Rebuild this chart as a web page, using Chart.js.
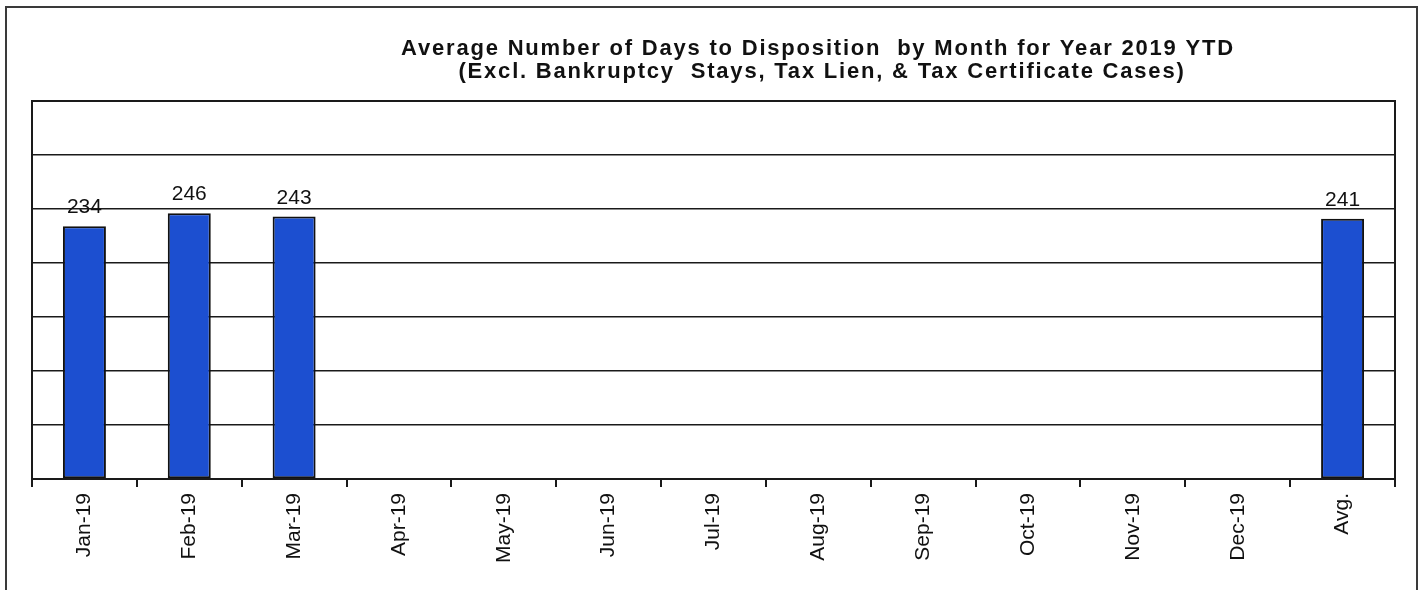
<!DOCTYPE html>
<html>
<head>
<meta charset="utf-8">
<script src="https://cdn.jsdelivr.net/npm/chart.js@4.4.1/dist/chart.umd.min.js"></script>
<style>
  body { margin: 0; background: #fff; }
  #caixa { position: relative; width: 1426px; height: 590px; }
</style>
</head>
<body>
<div id="caixa"><canvas id="graficoBarra"></canvas></div>
<script>
// Dados do gráfico
const meses = ['Jan-19', 'Feb-19', 'Mar-19', 'Apr-19', 'May-19', 'Jun-19', 'Jul-19', 'Aug-19', 'Sep-19', 'Oct-19', 'Nov-19', 'Dec-19', 'Avg.'];
const diasMedios = [234, 246, 243, null, null, null, null, null, null, null, null, null, 241];
const eixoYMin = 0;
const eixoYMax = 350;
const eixoYPasso = 50;
const titulo = ['Average Number of Days to Disposition  by Month for Year 2019 YTD', '(Excl. Bankruptcy  Stays, Tax Lien, & Tax Certificate Cases)'];

const fonte = '"Liberation Sans", Arial, sans-serif';

// Moldura externa + título
const pluginMoldura = {
    id: 'moldura',
    beforeDraw(chart) {
        const ctx = chart.ctx;
        ctx.save();
        ctx.strokeStyle = '#3a3a3a';
        ctx.lineWidth = 2;
        ctx.strokeRect(6, 7, 1411, 600);
        ctx.fillStyle = '#111';
        ctx.font = 'bold 22px ' + fonte;
        ctx.letterSpacing = '1.8px';
        ctx.textAlign = 'center';
        ctx.textBaseline = 'alphabetic';
        ctx.fillText(titulo[0], 818, 55);
        ctx.fillText(titulo[1], 822, 78);
        ctx.restore();
    },
    afterDraw(chart) {
        // borda da área do gráfico
        const a = chart.chartArea;
        const ctx = chart.ctx;
        ctx.save();
        ctx.strokeStyle = '#1a1a1a';
        ctx.lineWidth = 2;
        ctx.strokeRect(a.left, a.top, a.right - a.left, a.bottom - a.top);
        ctx.restore();
    }
};

// Rótulos de valor acima das barras
const pluginRotulos = {
    id: 'rotulos',
    afterDatasetsDraw(chart) {
        const ctx = chart.ctx;
        const meta = chart.getDatasetMeta(0);
        ctx.save();
        ctx.fillStyle = '#111';
        ctx.font = '21px ' + fonte;
        ctx.textAlign = 'center';
        ctx.textBaseline = 'alphabetic';
        meta.data.forEach((barra, i) => {
            const v = diasMedios[i];
            if (v == null) return;
            ctx.fillText(String(v), barra.x, barra.y - 13);
        });
        ctx.restore();
    }
};

const ctxBarra = document.getElementById('graficoBarra').getContext('2d');
const graficoBarra = new Chart(ctxBarra, {
    type: 'bar',
    data: {
        labels: meses,
        datasets: [{
            data: diasMedios,
            backgroundColor: '#1c4fd0',
            borderColor: '#111',
            borderWidth: 2,
            borderSkipped: false,
            categoryPercentage: 1,
            barPercentage: 0.41
        }]
    },
    options: {
        responsive: true,
        maintainAspectRatio: false,
        animation: false,
        layout: { padding: { left: 32, right: 31, top: 101, bottom: 0 } },
        plugins: {
            legend: { display: false },
            tooltip: { enabled: false }
        },
        scales: {
            x: {
                afterFit: (s) => { s.height = 111; },
                grid: {
                    offset: true,
                    drawOnChartArea: false,
                    drawTicks: true,
                    tickLength: 8,
                    color: '#1a1a1a',
                    lineWidth: 2
                },
                border: { color: '#1a1a1a', width: 2 },
                ticks: {
                    autoSkip: false,
                    minRotation: 90,
                    maxRotation: 90,
                    padding: 6,
                    color: '#111',
                    font: { family: fonte, size: 21 }
                }
            },
            y: {
                min: eixoYMin,
                max: eixoYMax,
                afterFit: (s) => { s.width = 0; },
                ticks: { display: false, stepSize: eixoYPasso },
                grid: { color: '#1a1a1a', lineWidth: 1.5, drawTicks: false },
                border: { color: '#1a1a1a', width: 2 }
            }
        }
    },
    plugins: [pluginMoldura, pluginRotulos]
});
</script>
</body>
</html>
